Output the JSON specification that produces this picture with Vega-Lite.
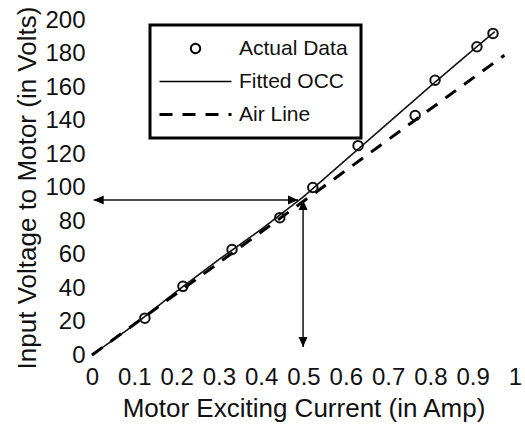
{
  "$schema": "https://vega.github.io/schema/vega-lite/v6.json",
  "width": 423,
  "height": 335,
  "autosize": {"type": "none"},
  "padding": {"left": 92, "top": 20, "right": 10, "bottom": 72},
  "background": "white",
  "config": {"view": {"stroke": null}, "font": "Liberation Sans", "axis": {"labelOverlap": false, "labelFlush": false, "labelBound": false}},
  "datasets": {
    "actual": [
      {"current": 0.125, "voltage": 22, "series": "Actual Data"},
      {"current": 0.215, "voltage": 41, "series": "Actual Data"},
      {"current": 0.331, "voltage": 63, "series": "Actual Data"},
      {"current": 0.444, "voltage": 82, "series": "Actual Data"},
      {"current": 0.522, "voltage": 100, "series": "Actual Data"},
      {"current": 0.629, "voltage": 125, "series": "Actual Data"},
      {"current": 0.764, "voltage": 143, "series": "Actual Data"},
      {"current": 0.811, "voltage": 164, "series": "Actual Data"},
      {"current": 0.91, "voltage": 184, "series": "Actual Data"},
      {"current": 0.948, "voltage": 192, "series": "Actual Data"}
    ],
    "curves": [
      {"current": 0, "voltage": 0, "series": "Fitted OCC"},
      {"current": 0.1, "voltage": 18, "series": "Fitted OCC"},
      {"current": 0.2, "voltage": 38, "series": "Fitted OCC"},
      {"current": 0.3, "voltage": 57, "series": "Fitted OCC"},
      {"current": 0.4, "voltage": 75, "series": "Fitted OCC"},
      {"current": 0.5, "voltage": 94.5, "series": "Fitted OCC"},
      {"current": 0.6, "voltage": 116.5, "series": "Fitted OCC"},
      {"current": 0.7, "voltage": 138.5, "series": "Fitted OCC"},
      {"current": 0.8, "voltage": 160.5, "series": "Fitted OCC"},
      {"current": 0.9, "voltage": 182, "series": "Fitted OCC"},
      {"current": 0.952, "voltage": 193, "series": "Fitted OCC"},
      {"current": 0, "voltage": 0, "series": "Air Line"},
      {"current": 0.975, "voltage": 179, "series": "Air Line"}
    ],
    "arrows": [
      {"current": 0.004, "current2": 0.487, "voltage": 92.5, "voltage2": 92.5},
      {"current": 0.499, "current2": 0.499, "voltage": 4.8, "voltage2": 92.5}
    ],
    "heads": [
      {"current": 0.004, "voltage": 92.5, "dir": "left"},
      {"current": 0.487, "voltage": 92.5, "dir": "right"},
      {"current": 0.499, "voltage": 92.5, "dir": "up"},
      {"current": 0.499, "voltage": 4.8, "dir": "down"}
    ]
  },
  "encoding": {
    "x": {
      "field": "current", "type": "quantitative",
      "scale": {"domain": [0, 1], "nice": false},
      "axis": {
        "values": [0, 0.1, 0.2, 0.3, 0.4, 0.5, 0.6, 0.7, 0.8, 0.9, 1],
        "format": "~g", "labelOverlap": false, "labelFlush": false,
        "ticks": false, "domain": false, "grid": false,
        "labelFontSize": 24, "labelColor": "#111", "labelPadding": 10,
        "title": "Motor Exciting Current (in Amp)", "titleFontSize": 26,
        "titleFontWeight": "normal", "titleColor": "#111", "titlePadding": 6
      }
    },
    "y": {
      "field": "voltage", "type": "quantitative",
      "scale": {"domain": [0, 200], "nice": false},
      "axis": {
        "values": [0, 20, 40, 60, 80, 100, 120, 140, 160, 180, 200],
        "labelOverlap": false, "labelFlush": false,
        "ticks": false, "domain": false, "grid": false,
        "labelFontSize": 24, "labelColor": "#111", "labelPadding": 7,
        "title": "Input Voltage to Motor (in Volts)", "titleFontSize": 26,
        "titleFontWeight": "normal", "titleColor": "#111", "titlePadding": 4
      }
    }
  },
  "layer": [
    {
      "data": {"name": "curves"},
      "transform": [{"filter": "datum.series === 'Fitted OCC'"}],
      "mark": {"type": "line", "color": "#111", "strokeWidth": 1.6},
      "encoding": {
        "strokeDash": {
          "field": "series", "type": "nominal",
          "scale": {"domain": ["Actual Data", "Fitted OCC", "Air Line"], "range": [[1, 0], [1, 0], [13, 10]]},
          "legend": {
            "title": null, "orient": "none", "legendX": 58, "legendY": 5,
            "labelFont": "Liberation Sans", "labelFontSize": 21, "labelColor": "#111",
            "symbolType": "stroke", "symbolSize": 5184, "symbolStrokeColor": "black",
            "symbolOffset": 22,
            "strokeColor": "black", "padding": 13, "rowPadding": 11, "labelOffset": 33,
            "encode": {
              "legend": {"update": {"strokeWidth": {"value": 3}}},
              "symbols": {"update": {
                "shape": {"signal": "datum.value === 'Actual Data' ? 'M-0.13,0A0.13,0.13 0 1,0 0.13,0A0.13,0.13 0 1,0 -0.13,0Z' : 'M-1,0H1'"},
                "size": {"value": 5184},
                "strokeWidth": {"signal": "datum.value === 'Air Line' ? 3 : (datum.value === 'Actual Data' ? 2 : 1.6)"},
                "fill": {"value": "transparent"},
                "stroke": {"value": "black"}
              }}
            }
          }
        }
      }
    },
    {
      "data": {"name": "curves"},
      "transform": [{"filter": "datum.series === 'Air Line'"}],
      "mark": {"type": "line", "color": "black", "strokeWidth": 3},
      "encoding": {
        "strokeDash": {"field": "series", "type": "nominal"}
      }
    },
    {
      "data": {"name": "actual"},
      "mark": {"type": "point", "shape": "circle", "size": 90, "filled": false, "color": "#111", "strokeWidth": 2, "opacity": 1}
    },
    {
      "data": {"name": "arrows"},
      "mark": {"type": "rule", "color": "#111", "strokeWidth": 1.5},
      "encoding": {
        "x2": {"field": "current2"},
        "y2": {"field": "voltage2"}
      }
    },
    {
      "data": {"name": "heads"},
      "mark": {"type": "point", "filled": true, "color": "black", "size": 100, "opacity": 1},
      "encoding": {
        "shape": {
          "field": "dir", "type": "nominal", "legend": null,
          "scale": {
            "domain": ["left", "right", "up", "down"],
            "range": ["M0,0L2,-0.9L2,0.9Z", "M0,0L-2,-0.9L-2,0.9Z", "M0,0L-0.9,2L0.9,2Z", "M0,0L-0.9,-2L0.9,-2Z"]
          }
        }
      }
    }
  ]
}
